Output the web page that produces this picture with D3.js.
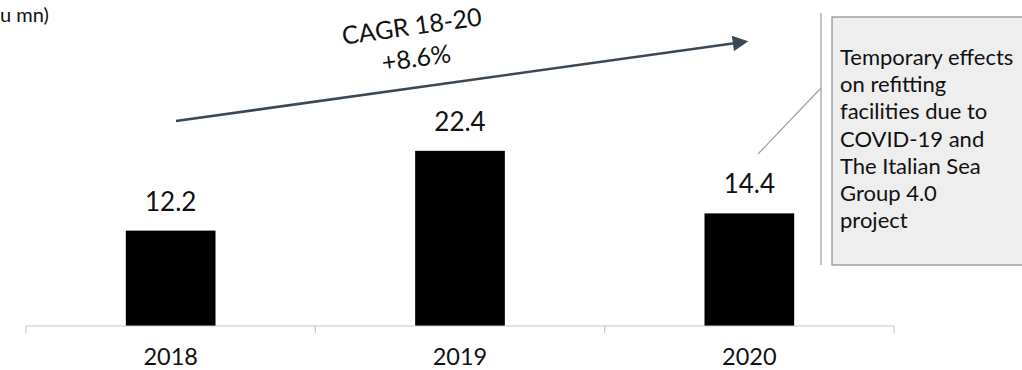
<!DOCTYPE html>
<html>
<head>
<meta charset="utf-8">
<script src="https://cdn.jsdelivr.net/npm/d3@7"></script>
<style>
  body { margin: 0; background: #fff; }
  svg { display: block; }
  text { font-family: Lato, "Open Sans", sans-serif; }
</style>
</head>
<body>
<svg id="chart" width="1022" height="370"></svg>
<script>
// Refitting revenues by year
const years = ["2018", "2019", "2020"];
const values = [12.2, 22.4, 14.4];
const unitLabel = "u mn)";
const cagrLines = ["CAGR 18-20", "+8.6%"];
const noteLines = ["Temporary effects", "on refitting", "facilities due to", "COVID-19 and", "The Italian Sea", "Group 4.0", "project"];

const svg = d3.select("#chart");

const x = d3.scaleBand()
  .domain(years)
  .range([26, 894])
  .paddingInner(0.69)
  .paddingOuter(0.345);

const y = d3.scaleLinear()
  .domain([0, 24])
  .range([326, 326 - 24 * 7.82]);

// Unit label (top left)
svg.append("text")
  .attr("x", 0).attr("y", 22)
  .attr("font-size", 20)
  .attr("fill", "#111")
  .text(unitLabel);

// Bars
svg.selectAll("rect.bar")
  .data(values)
  .join("rect")
  .attr("class", "bar")
  .attr("x", (d, i) => x(years[i]))
  .attr("y", d => y(d))
  .attr("width", x.bandwidth())
  .attr("height", d => y(0) - y(d))
  .attr("fill", "#000");

// Value labels
svg.selectAll("text.val")
  .data(values)
  .join("text")
  .attr("class", "val")
  .attr("x", (d, i) => x(years[i]) + x.bandwidth() / 2)
  .attr("y", d => y(d) - 20)
  .attr("text-anchor", "middle")
  .attr("font-size", 26)
  .attr("fill", "#111")
  .text(d => d.toFixed(1));

// Category axis with boundary ticks
const axisG = svg.append("g");
axisG.append("line")
  .attr("x1", 26).attr("x2", 894)
  .attr("y1", y(0)).attr("y2", y(0))
  .attr("stroke", "#c8c8c8").attr("stroke-width", 1.2);
const step = x.step();
const boundaries = d3.range(years.length + 1).map(i => 26 + i * step);
axisG.selectAll("line.tick")
  .data(boundaries)
  .join("line")
  .attr("class", "tick")
  .attr("x1", d => d).attr("x2", d => d)
  .attr("y1", y(0)).attr("y2", y(0) + 7)
  .attr("stroke", "#c8c8c8").attr("stroke-width", 1.2);
axisG.selectAll("text.year")
  .data(years)
  .join("text")
  .attr("class", "year")
  .attr("x", d => x(d) + x.bandwidth() / 2)
  .attr("y", 365)
  .attr("text-anchor", "middle")
  .attr("font-size", 23.5)
  .attr("fill", "#111")
  .text(d => d);

// CAGR arrow
const defs = svg.append("defs");
defs.append("marker")
  .attr("id", "arrowHead")
  .attr("viewBox", "0 0 10 10")
  .attr("refX", 2).attr("refY", 5)
  .attr("markerWidth", 7).attr("markerHeight", 6)
  .attr("markerUnits", "strokeWidth")
  .attr("orient", "auto")
  .append("path")
  .attr("d", "M0,0 L10,5 L0,10 Z")
  .attr("fill", "#3b4853");

const a0 = [176, 121], a1 = [736, 43];
svg.append("line")
  .attr("x1", a0[0]).attr("y1", a0[1])
  .attr("x2", a1[0]).attr("y2", a1[1])
  .attr("stroke", "#3b4853").attr("stroke-width", 2.6)
  .attr("marker-end", "url(#arrowHead)");

const angle = Math.atan2(a1[1] - a0[1], a1[0] - a0[0]) * 180 / Math.PI;
const cagr = svg.append("g").attr("transform", `translate(413,35) rotate(${angle})`);
cagr.selectAll("text")
  .data(cagrLines)
  .join("text")
  .attr("x", 0)
  .attr("y", (d, i) => i * 32)
  .attr("text-anchor", "middle")
  .attr("font-size", 25)
  .attr("fill", "#111")
  .text(d => d);

// Note box with leader line
svg.append("line")
  .attr("x1", 821).attr("y1", 13)
  .attr("x2", 821).attr("y2", 265)
  .attr("stroke", "#9a9a9a").attr("stroke-width", 1.2);
svg.append("line")
  .attr("x1", 821).attr("y1", 88)
  .attr("x2", 758).attr("y2", 154)
  .attr("stroke", "#a0a0a0").attr("stroke-width", 1.2);
svg.append("rect")
  .attr("x", 832).attr("y", 17)
  .attr("width", 200).attr("height", 248)
  .attr("fill", "#eeeeee")
  .attr("stroke", "#8c8c8c").attr("stroke-width", 1.2);
svg.append("g")
  .selectAll("text")
  .data(noteLines)
  .join("text")
  .attr("x", 840)
  .attr("y", (d, i) => 65 + i * 27.2)
  .attr("font-size", 22)
  .attr("fill", "#111")
  .text(d => d);
</script>
</body>
</html>
